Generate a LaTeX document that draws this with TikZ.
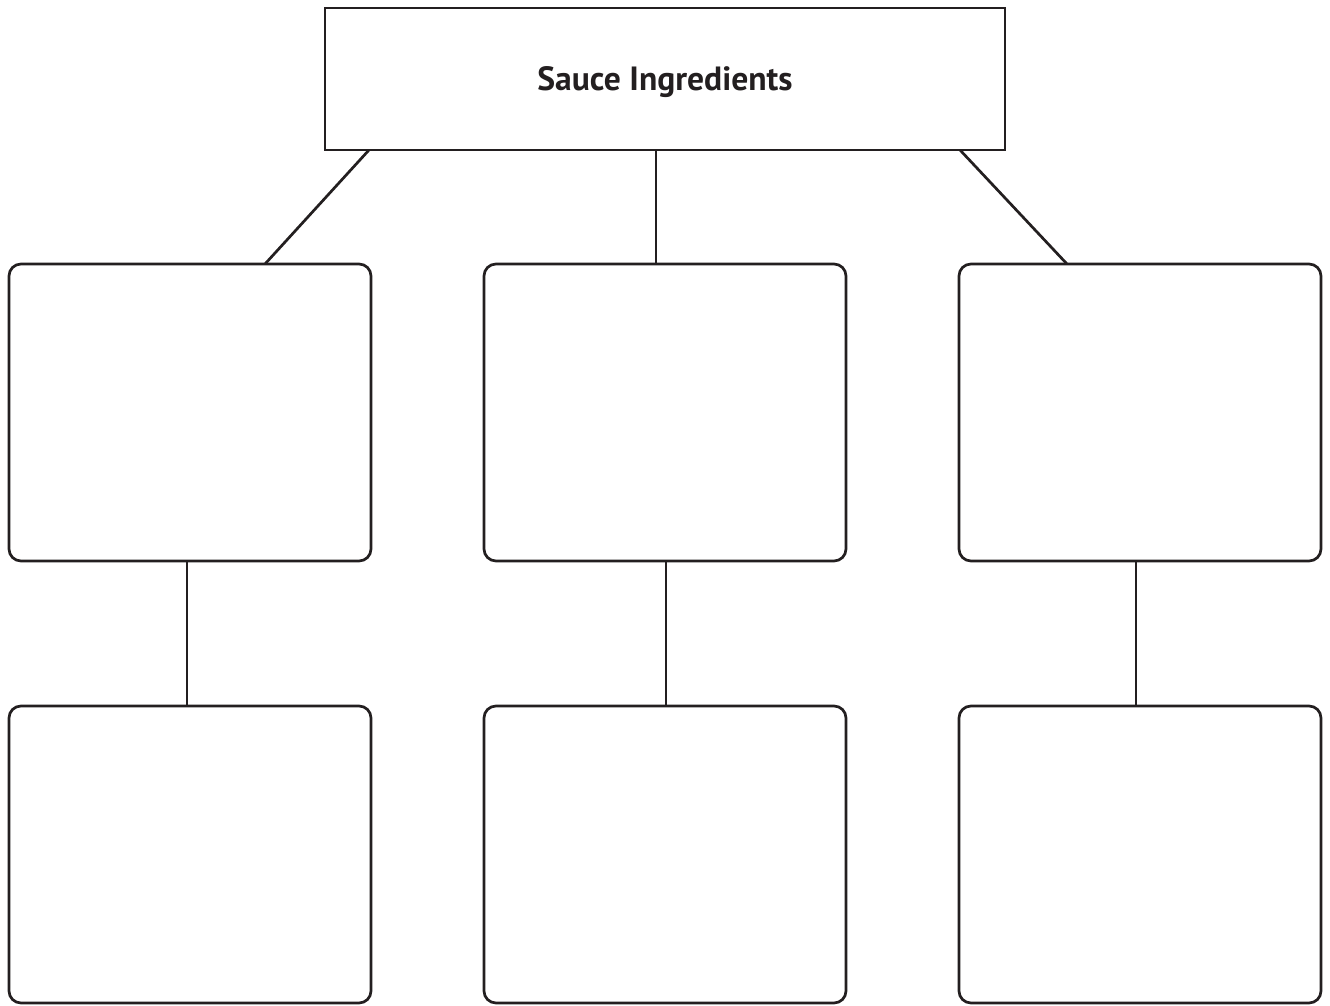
\documentclass[tikz,border=0pt]{standalone}
\usepackage{fontspec}
\setmainfont{PT Sans}
\usepackage{tikz}
\usetikzlibrary{positioning}
\definecolor{ink}{HTML}{231F20}

\begin{document}
\begin{tikzpicture}[x=1pt, y=-1pt, line width=2.7pt, draw=ink,
  title/.style = {draw=ink, rectangle, outer sep=0pt, minimum width=680pt, minimum height=142pt, text depth=-3pt, font=\fontsize{33.6}{38}\selectfont\bfseries, text=ink},
  blank/.style = {draw=ink, rectangle, rounded corners=12pt, outer sep=0pt, minimum width=362pt, minimum height=297pt}]
\useasboundingbox (0,0) rectangle (1330,1006);

\node[title] (sauce) at (665,79) {Sauce Ingredients};
\node[blank] (m1) [below=114pt of sauce] {};
\node[blank] (l1) [left=113pt of m1] {};
\node[blank] (r1) [right=113pt of m1] {};
\node[blank] (m2) [below=145pt of m1] {};
\node[blank] (l2) [below=145pt of l1] {};
\node[blank] (r2) [below=145pt of r1] {};

\draw[ink] ([xshift=44pt]sauce.south west) -- ([xshift=75pt]l1.north);
\draw[ink] ([xshift=-9pt]sauce.south) -- ([xshift=-9pt]m1.north);
\draw[ink] ([xshift=-45pt]sauce.south east) -- ([xshift=-73pt]r1.north);
\draw[ink] ([xshift=-3pt]l1.south) -- ([xshift=-3pt]l2.north);
\draw[ink] ([xshift=1pt]m1.south) -- ([xshift=1pt]m2.north);
\draw[ink] ([xshift=-4pt]r1.south) -- ([xshift=-4pt]r2.north);

\end{tikzpicture}
\end{document}
